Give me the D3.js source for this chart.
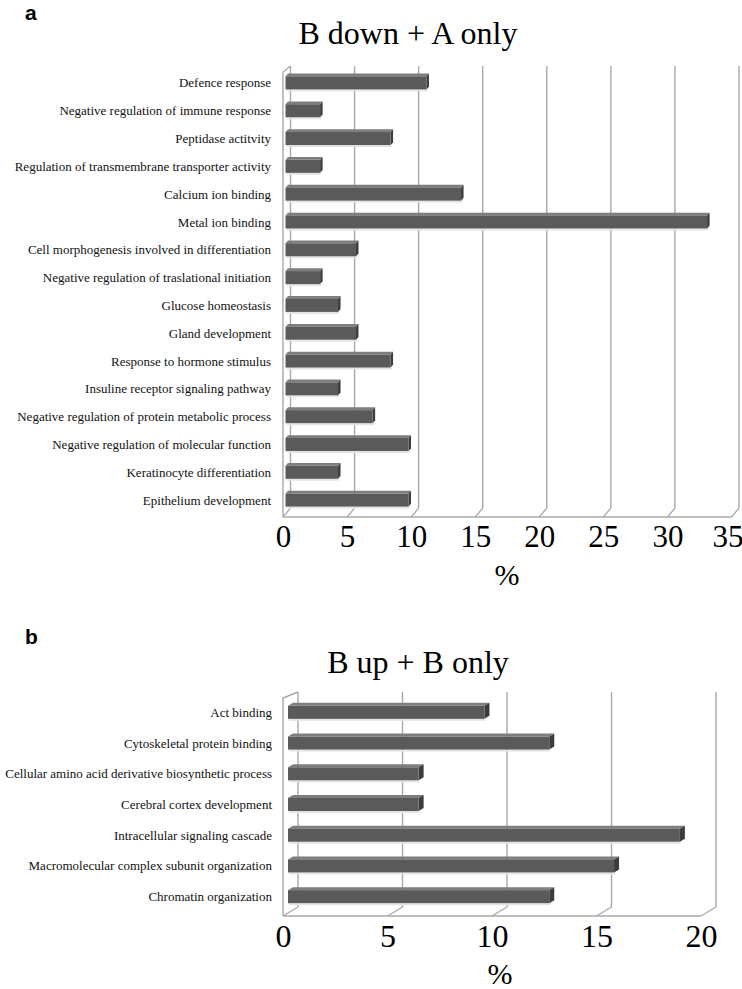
<!DOCTYPE html>
<html>
<head>
<meta charset="utf-8">
<script src="https://cdn.jsdelivr.net/npm/d3@7/dist/d3.min.js"></script>
<style>
  html, body { margin: 0; padding: 0; background: #fff; }
  svg { display: block; }
  .serif { font-family: "Liberation Serif", "Times New Roman", Times, serif; }
  .sans { font-family: "Liberation Sans", Arial, Helvetica, sans-serif; }
</style>
</head>
<body>
<svg id="chart" width="742" height="989"></svg>
<script>
// ---------- DATA ----------
const titleA = "B down + A only";
const categoriesA = [
  "Defence response",
  "Negative regulation of immune response",
  "Peptidase actitvity",
  "Regulation of transmembrane transporter activity",
  "Calcium ion binding",
  "Metal ion binding",
  "Cell morphogenesis involved in differentiation",
  "Negative regulation of traslational initiation",
  "Glucose homeostasis",
  "Gland development",
  "Response to hormone stimulus",
  "Insuline receptor signaling pathway",
  "Negative regulation of protein metabolic process",
  "Negative regulation of molecular function",
  "Keratinocyte differentiation",
  "Epithelium development"
];
const valuesA = [11.0, 2.7, 8.2, 2.7, 13.7, 32.9, 5.5, 2.7, 4.1, 5.5, 8.2, 4.1, 6.8, 9.6, 4.1, 9.6];
const ticksA = [0, 5, 10, 15, 20, 25, 30, 35];

const titleB = "B up + B only";
const categoriesB = [
  "Act binding",
  "Cytoskeletal protein binding",
  "Cellular amino acid derivative biosynthetic process",
  "Cerebral cortex development",
  "Intracellular signaling cascade",
  "Macromolecular complex subunit organization",
  "Chromatin organization"
];
const valuesB = [9.4, 12.5, 6.25, 6.25, 18.75, 15.6, 12.5];
const ticksB = [0, 5, 10, 15, 20];

const axisTitle = "%";

// ---------- DRAW ----------
const svg = d3.select("#chart");
const gridColor = "#a8a8a8";

function drawPanel(g, o) {
  const { categories, values, ticks } = o;
  const dx = o.dx, dy = o.dy;
  const xBack = d3.scaleLinear().domain([0, d3.max(ticks)]).range([o.backX0, o.backX1]);
  const xFront = v => xBack(v) - dx;
  const y = d3.scaleBand().domain(categories).range([o.bandTop, o.bandBottom]).paddingInner(o.pad).paddingOuter(o.pad / 2);

  g.selectAll("line.grid").data(ticks).join("line")
    .attr("class", "grid")
    .attr("x1", d => xBack(d)).attr("x2", d => xBack(d))
    .attr("y1", o.backTop).attr("y2", o.floorBack)
    .attr("stroke", gridColor).attr("stroke-width", 1.4);
  g.selectAll("line.diag").data(ticks).join("line")
    .attr("class", "diag")
    .attr("x1", d => xBack(d)).attr("x2", d => xFront(d))
    .attr("y1", o.floorBack).attr("y2", o.floorFront)
    .attr("stroke", gridColor).attr("stroke-width", 1.2);
  g.append("line")
    .attr("x1", xFront(0)).attr("x2", xFront(d3.max(ticks)))
    .attr("y1", o.floorFront).attr("y2", o.floorFront)
    .attr("stroke", gridColor).attr("stroke-width", 1.4);
  g.append("path")
    .attr("d", `M${xFront(0)},${o.floorFront} L${xFront(0)},${o.backTop + o.wallSlant} L${xBack(0)},${o.backTop}`)
    .attr("fill", "none").attr("stroke", gridColor).attr("stroke-width", 1.4);

  const t1 = 1 / 3, t2 = 2 / 3;
  const bh = o.barH;
  const bars = g.selectAll("g.bar").data(categories.map((c, i) => ({ c, v: values[i] }))).join("g").attr("class", "bar");
  bars.each(function (d) {
    const gg = d3.select(this);
    const cy = y(d.c) + y.bandwidth() / 2;
    const x0 = xFront(0) + t1 * dx, x1 = xFront(d.v) + t1 * dx;
    const yt = cy - bh / 2, yb = cy + bh / 2;
    const ox = (t2 - t1) * dx, oy = (t2 - t1) * dy;
    gg.append("rect").attr("x", x0 + 1).attr("y", yb).attr("width", x1 - x0).attr("height", 2)
      .attr("fill", "#e4e4e4");
    gg.append("path")
      .attr("d", `M${x0},${yt} L${x0 + ox},${yt + oy} L${x1 + ox},${yt + oy} L${x1},${yt} Z`)
      .attr("fill", "#7e7e7e");
    gg.append("path")
      .attr("d", `M${x1},${yt} L${x1 + ox},${yt + oy} L${x1 + ox},${yb + oy} L${x1},${yb} Z`)
      .attr("fill", "#3c3c3c");
    gg.append("rect").attr("x", x0).attr("y", yt).attr("width", x1 - x0).attr("height", bh)
      .attr("fill", "#5a5a5a");
  });

  g.selectAll("text.cat").data(categories).join("text")
    .attr("class", "cat serif")
    .attr("x", o.labelX)
    .attr("y", d => y(d) + y.bandwidth() / 2)
    .attr("dy", "0.35em")
    .attr("text-anchor", "end")
    .style("font-size", o.labelSize + "px")
    .attr("fill", "#111")
    .text(d => d);

  const xf = d3.scaleLinear().domain(xBack.domain()).range([xFront(0), xFront(d3.max(ticks))]);
  const ax = g.append("g").attr("class", "serif").attr("transform", `translate(0,${o.floorFront})`)
    .call(d3.axisBottom(xf).tickValues(ticks).tickSize(0).tickPadding(o.tickPad).tickFormat(d3.format("d")));
  ax.select(".domain").remove();
  ax.attr("font-family", null).attr("font-size", null);
  ax.selectAll("text").attr("class", "serif").style("font-size", o.tickSize + "px").attr("fill", "#000");
  ax.selectAll(".tick:last-of-type text").attr("x", o.lastTickShift);

  g.append("text").attr("class", "serif").attr("x", o.axisTitleX).attr("y", o.axisTitleY)
    .attr("text-anchor", "middle").style("font-size", "30px").attr("fill", "#000")
    .text(axisTitle);

  g.append("text").attr("class", "serif").attr("x", o.titleX).attr("y", o.titleY)
    .attr("text-anchor", "middle").style("font-size", "32px").attr("fill", "#000")
    .text(o.title);

  g.append("text").attr("class", "sans").attr("x", 25).attr("y", o.letterY)
    .attr("font-weight", "bold")
    .style("font-size", "21px").attr("fill", "#000")
    .text(o.letter);
}

drawPanel(svg.append("g"), {
  categories: categoriesA, values: valuesA, ticks: ticksA, title: titleA, letter: "a",
  backX0: 290.5, backX1: 739, dx: 7.5, dy: -8.5,
  backTop: 66, wallSlant: 6, floorBack: 508, floorFront: 517,
  bandTop: 69, bandBottom: 514, pad: 0.53, barH: 13,
  labelX: 271, labelSize: 13, tickPad: 8, tickSize: 31, lastTickShift: -4,
  axisTitleX: 507, axisTitleY: 585, titleX: 408, titleY: 44, letterY: 20
});

drawPanel(svg.append("g"), {
  categories: categoriesB, values: valuesB, ticks: ticksB, title: titleB, letter: "b",
  backX0: 298, backX1: 716, dx: 15, dy: -9,
  backTop: 692, wallSlant: 6, floorBack: 907, floorFront: 916,
  bandTop: 697, bandBottom: 912, pad: 0.57, barH: 13,
  labelX: 272, labelSize: 13, tickPad: 8, tickSize: 32, lastTickShift: 0,
  axisTitleX: 500, axisTitleY: 984, titleX: 418, titleY: 673, letterY: 644
});
</script>
</body>
</html>
